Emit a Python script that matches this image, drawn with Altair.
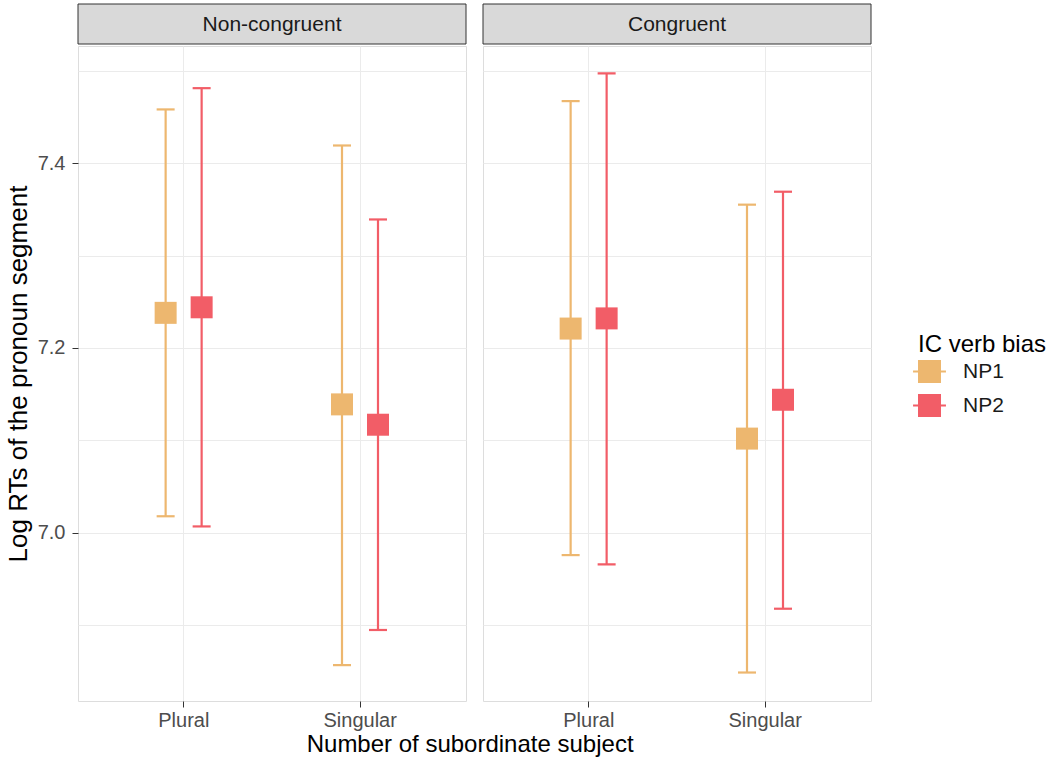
import altair as alt
import pandas as pd

conditions = ["Non-congruent", "Congruent"]
numbers = ["Plural", "Singular"]
biases = ["NP1", "NP2"]
colors = ["#EDB76F", "#F25D67"]

# order: condition -> number -> bias
mean_vals = [7.238, 7.244, 7.139, 7.117, 7.221, 7.232, 7.102, 7.144]
lower_vals = [7.018, 7.007, 6.857, 6.895, 6.976, 6.966, 6.849, 6.918]
upper_vals = [7.458, 7.481, 7.419, 7.339, 7.467, 7.497, 7.355, 7.369]

rows = []
i = 0
for c in conditions:
    for n in numbers:
        for b in biases:
            rows.append({"condition": c, "number": n, "bias": b,
                         "mean": mean_vals[i], "lower": lower_vals[i], "upper": upper_vals[i]})
            i += 1
df = pd.DataFrame(rows)

FONT = "Liberation Sans"
W, H = 388, 655
ydom = [6.8182, 7.5266]
grid_vals = [6.9, 7.0, 7.1, 7.2, 7.3, 7.4, 7.5]
major_test = "round(datum.value*10) % 2 == 0"


def panel(cond, show_y):
    base = alt.Chart(df).transform_filter(alt.datum.condition == cond)
    x = alt.X("number:N", sort=numbers,
              scale=alt.Scale(domain=numbers, paddingInner=0, paddingOuter=0.1),
              axis=alt.Axis(title=None, labelAngle=0, labelFontSize=20, labelColor="#4D4D4D",
                            labelFont=FONT, tickColor="#333333", tickSize=6, labelPadding=3,
                            gridColor="#EBEBEB", grid=True, domain=False))
    xo = alt.XOffset("bias:N", sort=biases,
                     scale=alt.Scale(domain=biases, range=[52, 124], paddingInner=0, paddingOuter=0))
    color = alt.Color("bias:N", sort=biases,
                      scale=alt.Scale(domain=biases, range=colors),
                      legend=alt.Legend(title="IC verb bias", orient="none",
                                        legendX=840, legendY=287,
                                        titleFontSize=24, titleFont=FONT, titleFontWeight="normal",
                                        titleColor="black", titlePadding=3,
                                        labelFontSize=21, labelFont=FONT, labelColor="#1A1A1A",
                                        symbolType="M-1.43,-0.09H1.43V0.09H-1.43Z M-1,-1H1V1H-1Z",
                                        symbolSize=529, symbolStrokeWidth=0, symbolOpacity=1,
                                        rowPadding=11, labelOffset=22))
    if show_y:
        yaxis = alt.Axis(title="Log RTs of the pronoun segment", titleFontSize=26, titleFont=FONT,
                         titleFontWeight="normal", titleColor="black", titlePadding=6,
                         values=grid_vals,
                         labelExpr="round(datum.value*10) % 2 == 0 ? format(datum.value, '.1f') : ''",
                         labelFontSize=20, labelColor="#4D4D4D", labelFont=FONT, labelPadding=7,
                         tickSize=6, tickColor="#333333",
                         tickOpacity={"condition": {"test": major_test, "value": 1}, "value": 0},
                         gridColor="#EBEBEB", domain=False)
    else:
        yaxis = alt.Axis(title=None, values=grid_vals, labels=False, ticks=False,
                         gridColor="#EBEBEB", domain=False)
    yscale = alt.Scale(domain=ydom, nice=False, zero=False)

    rules = base.mark_rule(strokeWidth=2.2).encode(
        x=x, xOffset=xo, y=alt.Y("lower:Q", scale=yscale, axis=yaxis), y2="upper:Q", color=color)
    cap_lo = base.mark_tick(orient="horizontal", thickness=2.2, size=18, opacity=1).encode(
        x=x, xOffset=xo, y=alt.Y("lower:Q", scale=yscale), color=color)
    cap_hi = base.mark_tick(orient="horizontal", thickness=2.2, size=18, opacity=1).encode(
        x=x, xOffset=xo, y=alt.Y("upper:Q", scale=yscale), color=color)
    pts = base.mark_point(shape="square", filled=True, size=484, opacity=1).encode(
        x=x, xOffset=xo, y=alt.Y("mean:Q", scale=yscale), color=color)

    strip_df = pd.DataFrame({"label": [cond]})
    strip_bg = alt.Chart(strip_df).mark_rect(fill="#D9D9D9", stroke="#333333", strokeWidth=1).encode(
        x=alt.value(0), x2=alt.value(W), y=alt.value(-42), y2=alt.value(-2))
    strip_txt = alt.Chart(strip_df).mark_text(fontSize=21, font=FONT, color="#1A1A1A").encode(
        text="label:N", x=alt.value(W / 2), y=alt.value(-21))

    return alt.layer(rules, cap_lo, cap_hi, pts, strip_bg, strip_txt).properties(width=W, height=H)


chart = alt.hconcat(panel(conditions[0], True), panel(conditions[1], False), spacing=15).properties(
    title=alt.TitleParams("Number of subordinate subject", orient="bottom", fontSize=24, font=FONT,
                          fontWeight="normal", color="black", anchor="start", dx=302, offset=2),
    padding={"left": 4, "top": 3, "right": 0, "bottom": 0},
).configure_view(stroke="#333333", strokeWidth=1.2).configure(background="white")

chart.save("out.html", embed_options={"renderer": "svg", "actions": False})
